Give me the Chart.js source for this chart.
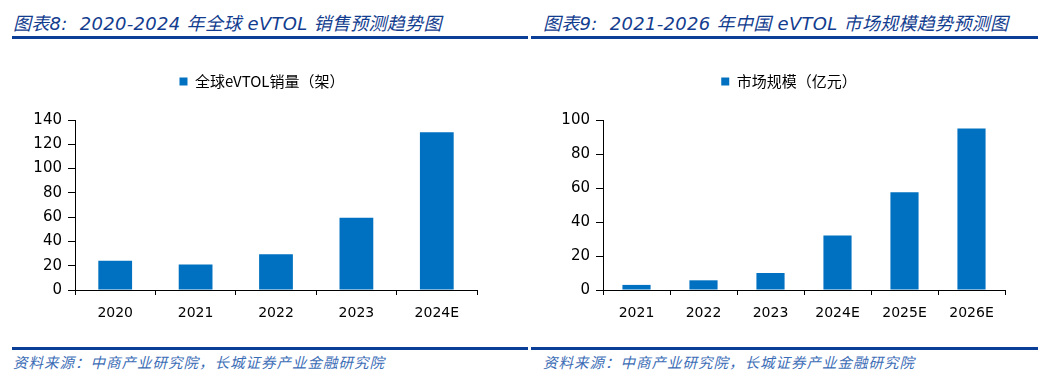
<!DOCTYPE html>
<html>
<head>
<meta charset="utf-8">
<script src="https://cdn.jsdelivr.net/npm/chart.js@4.4.1/dist/chart.umd.min.js"></script>
<style>
    body { margin: 0; width: 1058px; height: 380px; background: #fff; position: relative; overflow: hidden; }
    .title { position: absolute; top: 9px; font: italic 18px "DejaVu Sans", "Noto Sans CJK SC", sans-serif; color: #123d8f; white-space: pre; letter-spacing: 0.3px; }
    .rule { position: absolute; height: 3px; background: #0b3e96; }
    .source { position: absolute; top: 351px; font: italic 14.5px "Noto Sans CJK SC", sans-serif; color: #3b6db6; letter-spacing: 1px; white-space: pre; }
    .box { position: absolute; top: 40px; height: 300px; }
</style>
</head>
<body>
<div class="title" style="left:13px">图表8:  2020-2024 年全球 eVTOL 销售预测趋势图</div>
<div class="title" style="left:543px">图表9:  2021-2026 年中国 eVTOL 市场规模趋势预测图</div>
<div class="rule" style="left:12px; width:516px; top:36px"></div>
<div class="rule" style="left:531px; width:507px; top:36px"></div>

<div class="box" style="left:0; width:530px"><canvas id="salesChart"></canvas></div>
<div class="box" style="left:530px; width:528px"><canvas id="marketChart"></canvas></div>

<div class="rule" style="left:12px; width:516px; top:347px"></div>
<div class="rule" style="left:531px; width:507px; top:347px"></div>
<div class="source" style="left:13px">资料来源：中商产业研究院，长城证券产业金融研究院</div>
<div class="source" style="left:543px">资料来源：中商产业研究院，长城证券产业金融研究院</div>

<script>
/* -----------------------------------------------------------
   DATA
----------------------------------------------------------- */

const salesYears = ["2020", "2021", "2022", "2023", "2024E"];
const salesValues = [24, 21, 29.5, 59.5, 130];
const salesLabel = "全球eVTOL销量（架）";

const marketYears = ["2021", "2022", "2023", "2024E", "2025E", "2026E"];
const marketValues = [3, 5.7, 10, 32, 57.5, 95];
const marketLabel = "市场规模（亿元）";

/* -----------------------------------------------------------
   SHARED SETTINGS
----------------------------------------------------------- */

Chart.defaults.color = "#000";
Chart.defaults.font.family = "'DejaVu Sans', 'Noto Sans CJK SC', sans-serif";
Chart.defaults.font.size = 14;
Chart.defaults.animation = false;

const barBlue = "#0070c0";

/* Nudge the legend after layout (the reference legend is not centred over the plot) */
const legendNudge = {
    id: "legendNudge",
    afterLayout: (chart, args, opts) => {
        const lg = chart.legend;
        if (!lg) return;
        lg.left += opts.x || 0;
        lg.right += opts.x || 0;
        lg.top += opts.y || 0;
        lg.bottom += opts.y || 0;
    }
};

function buildChart(id, labels, values, label, yMax, padLeft, nudgeX) {
    const ctx = document.getElementById(id).getContext("2d");
    return new Chart(ctx, {
        type: "bar",
        data: {
            labels,
            datasets: [{
                label,
                data: values,
                backgroundColor: barBlue,
                borderWidth: 0,
                barPercentage: 0.42,
                categoryPercentage: 1
            }]
        },
        options: {
            responsive: true,
            maintainAspectRatio: false,
            layout: { padding: { top: 26, left: padLeft, right: 53, bottom: 12 } },
            plugins: {
                tooltip: { enabled: false },
                legendNudge: { x: nudgeX, y: -21 },
                legend: {
                    display: true,
                    labels: {
                        boxWidth: 8,
                        boxHeight: 8,
                        padding: 29,
                        font: { family: "'Noto Sans CJK SC', sans-serif", size: 15 }
                    }
                }
            },
            scales: {
                x: {
                    grid: { display: true, drawOnChartArea: false, drawTicks: true, tickLength: 5, color: "#000", offset: true },
                    border: { display: true, color: "#000", width: 1 },
                    ticks: { padding: 10, maxRotation: 0 },
                    afterFit: s => { s.height = 38; }
                },
                y: {
                    min: 0,
                    max: yMax,
                    grid: { display: true, drawOnChartArea: false, drawTicks: true, tickLength: 7, color: "#000" },
                    border: { display: true, color: "#000", width: 1 },
                    ticks: { stepSize: 20, padding: 6, font: { size: 15 } },
                    afterFit: s => { s.width = 60; }
                }
            }
        },
        plugins: [legendNudge]
    });
}

window.addEventListener("load", () => {
    buildChart("salesChart", salesYears, salesValues, salesLabel, 140, 15, 16);
    buildChart("marketChart", marketYears, marketValues, marketLabel, 100, 13, 15);
});
</script>
</body>
</html>
